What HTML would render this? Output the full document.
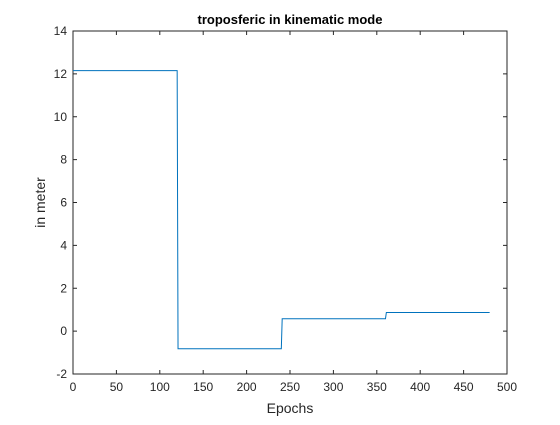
<!DOCTYPE html>
<html><head><meta charset="utf-8"><style>
body{margin:0;background:#fff;width:560px;height:420px;overflow:hidden}
svg{font-family:"Liberation Sans",Arial,sans-serif}
</style></head><body>
<svg id="chart" width="560" height="420">
<rect x="0" y="0" width="560" height="420" fill="#fff"/>
<rect x="73" y="31" width="434" height="343" fill="#fff" stroke="#262626" stroke-width="1"/>
<g id="ticks"></g>
<path id="line" fill="none" stroke="#0072BD" stroke-width="1"/>
<text x="290" y="24" text-anchor="middle" font-size="13" font-weight="bold" fill="#000">troposferic in kinematic mode</text>
<text x="290" y="413" text-anchor="middle" font-size="14" fill="#262626">Epochs</text>
<text x="0" y="0" transform="translate(45,202.5) rotate(-90)" text-anchor="middle" font-size="14" fill="#262626">in meter</text>
</svg>
<script>
const epochs = [0, 120, 121, 240, 241, 360, 361, 480];
const values = [12.15, 12.15, -0.82, -0.82, 0.58, 0.58, 0.87, 0.87];
const xTicks = [0, 50, 100, 150, 200, 250, 300, 350, 400, 450, 500];
const yTicks = [-2, 0, 2, 4, 6, 8, 10, 12, 14];
const L=73,R=507,T=31,B=374;
const xs = v => L + (v - 0) / 500 * (R - L);
const ys = v => B - (v + 2) / 16 * (B - T);
const ns="http://www.w3.org/2000/svg";
const g=document.getElementById('ticks');
function mk(tag,attrs){const e=document.createElementNS(ns,tag);for(const k in attrs)e.setAttribute(k,attrs[k]);g.appendChild(e);return e;}
xTicks.forEach(t=>{
  const x=xs(t);
  const a=mk('line',{x1:x,x2:x,y1:B,y2:B-4,stroke:'#262626'});
  
  
  const b=mk('line',{x1:x,x2:x,y1:T,y2:T+4,stroke:'#262626'});
  
  
  const tx=mk('text',{x:x,y:B+17,'text-anchor':'middle','font-size':'12',fill:'#262626'});
  tx.textContent=t;
  
  
});
yTicks.forEach(t=>{
  const y=ys(t);
  const a=mk('line',{x1:L,x2:L+4,y1:y,y2:y,stroke:'#262626'});
  
  
  const b=mk('line',{x1:R,x2:R-4,y1:y,y2:y,stroke:'#262626'});
  
  
  const tx=mk('text',{x:L-6,y:y+4,'text-anchor':'end','font-size':'12',fill:'#262626'});
  tx.textContent=t;
  
  
});
document.getElementById('line').setAttribute('d',epochs.map((e,i)=>(i?'L':'M')+xs(e).toFixed(2)+','+ys(values[i]).toFixed(2)).join(' '));
</script>
</body></html>
